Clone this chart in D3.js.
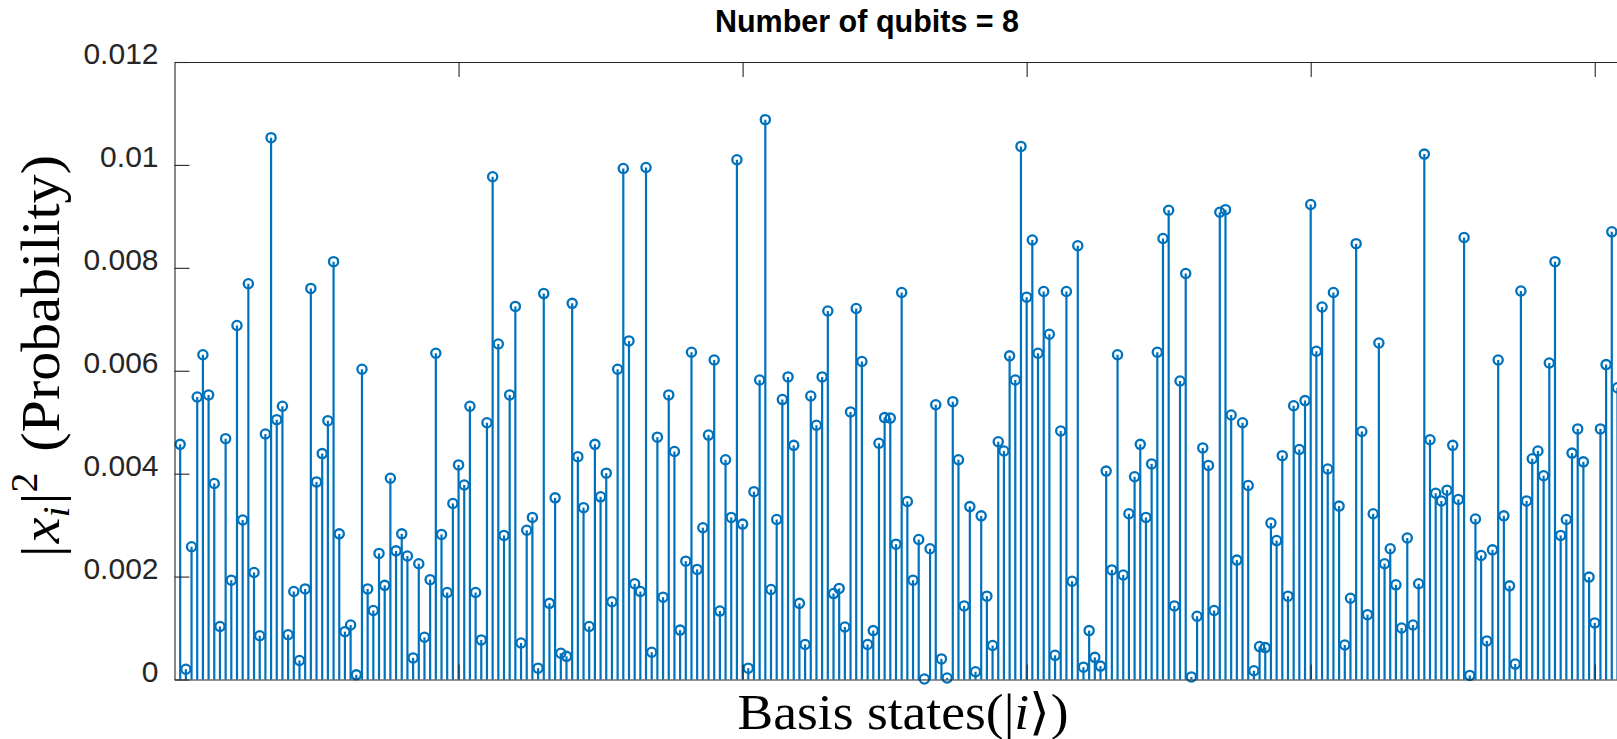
<!DOCTYPE html>
<html>
<head>
<meta charset="utf-8">
<script src="https://cdn.jsdelivr.net/npm/d3@7"></script>
<style>
  body { margin: 0; background: #fff; }
  svg { display: block; }
</style>
</head>
<body>
<script>
// |x_i|^2 for the 256 basis states (last couple are cropped)
const probabilities = [
  0.00457, 0.0002, 0.00258, 0.00549, 0.00631, 0.00553, 0.00381, 0.00103, 0.00468, 0.00193,
  0.00688, 0.0031, 0.00769, 0.00208, 0.00085, 0.00477, 0.01053, 0.00505, 0.00531, 0.00087,
  0.00171, 0.00037, 0.00176, 0.0076, 0.00384, 0.00439, 0.00503, 0.00812, 0.00283, 0.00093,
  0.00106, 0.00009, 0.00603, 0.00176, 0.00134, 0.00245, 0.00183, 0.00391, 0.0025, 0.00283,
  0.0024, 0.00042, 0.00225, 0.00082, 0.00194, 0.00634, 0.00282, 0.00169, 0.00342, 0.00417,
  0.00378, 0.00531, 0.00169, 0.00077, 0.00499, 0.00977, 0.00652, 0.0028, 0.00553, 0.00725,
  0.00071, 0.0029, 0.00315, 0.00022, 0.0075, 0.00148, 0.00353, 0.00051, 0.00045, 0.00731,
  0.00433, 0.00334, 0.00103, 0.00457, 0.00355, 0.00401, 0.00151, 0.00603, 0.00993, 0.00658,
  0.00186, 0.00171, 0.00995, 0.00053, 0.00471, 0.0016, 0.00553, 0.00443, 0.00096, 0.0023,
  0.00636, 0.00214, 0.00295, 0.00475, 0.00621, 0.00133, 0.00427, 0.00315, 0.0101, 0.00302,
  0.00022, 0.00365, 0.00582, 0.01088, 0.00175, 0.00311, 0.00544, 0.00588, 0.00455, 0.00148,
  0.00068, 0.00551, 0.00494, 0.00588, 0.00716, 0.00167, 0.00177, 0.00102, 0.0052, 0.00721,
  0.00618, 0.00068, 0.00095, 0.00459, 0.00509, 0.00508, 0.00263, 0.00752, 0.00346, 0.00193,
  0.00272, 0.00001, 0.00254, 0.00534, 0.0004, 0.00003, 0.0054, 0.00427, 0.00143, 0.00336,
  0.00015, 0.00318, 0.00162, 0.00066, 0.00462, 0.00444, 0.00629, 0.00582, 0.01036, 0.00743,
  0.00854, 0.00634, 0.00754, 0.00671, 0.00047, 0.00483, 0.00754, 0.00191, 0.00843, 0.00024,
  0.00095, 0.00043, 0.00026, 0.00405, 0.00213, 0.00631, 0.00203, 0.00322, 0.00394, 0.00457,
  0.00315, 0.00419, 0.00636, 0.00857, 0.00912, 0.00143, 0.0058, 0.00789, 0.00005, 0.00123,
  0.0045, 0.00416, 0.00134, 0.00908, 0.00913, 0.00514, 0.00232, 0.00499, 0.00377, 0.00017,
  0.00064, 0.00062, 0.00304, 0.0027, 0.00435, 0.00162, 0.00532, 0.00447, 0.00542, 0.00923,
  0.00638, 0.00724, 0.00409, 0.00752, 0.00337, 0.00067, 0.00158, 0.00847, 0.00482, 0.00126,
  0.00322, 0.00654, 0.00225, 0.00254, 0.00184, 0.001, 0.00275, 0.00106, 0.00186, 0.01021,
  0.00466, 0.00362, 0.00347, 0.00368, 0.00455, 0.0035, 0.00859, 0.00008, 0.00312, 0.00241,
  0.00075, 0.00252, 0.00621, 0.00318, 0.00182, 0.0003, 0.00755, 0.00347, 0.00429, 0.00444,
  0.00396, 0.00615, 0.00812, 0.0028, 0.00311, 0.0044, 0.00487, 0.00423, 0.00199, 0.0011,
  0.00487, 0.00612, 0.0087, 0.00567, 0.0065, 0.0036
]
const basisStates = probabilities.map((p, i) => i + 1)

const yTicks = [0, 0.002, 0.004, 0.006, 0.008, 0.01, 0.012]
const yTickLabels = ['0', '0.002', '0.004', '0.006', '0.008', '0.01', '0.012']
const xTicks = [50, 100, 150, 200, 250]

const titleText = 'Number of qubits = 8'

const w = 1617
const h = 739
const blue = '#0072BD'
const axisColor = '#262626'

const svg = d3.select('body')
    .append('svg')
    .attr('width', w)
    .attr('height', h)

svg.append('rect')
    .attr('width', w)
    .attr('height', h)
    .attr('fill', '#fff')

const x = d3.scaleLinear()
    .domain([0, 300])
    .range([174.5, 1878.8])

const y = d3.scaleLinear()
    .domain([0, 0.012])
    .range([679.5, 62])

// stems
const stems = svg.append('g')
    .selectAll('g')
    .data(basisStates)
    .enter()
    .append('g')

stems.append('line')
    .attr('x1', d => x(d))
    .attr('x2', d => x(d))
    .attr('y1', y(0))
    .attr('y2', d => y(probabilities[d - 1]))
    .attr('stroke', blue)
    .attr('stroke-width', 2.2)

stems.append('circle')
    .attr('cx', d => x(d))
    .attr('cy', d => y(probabilities[d - 1]))
    .attr('r', 4.6)
    .attr('fill', 'none')
    .attr('stroke', blue)
    .attr('stroke-width', 2.3)

// axes, ticks point inwards like matlab
const yAxis = d3.axisLeft(y)
    .tickValues(yTicks)
    .tickSize(-15)
    .tickSizeOuter(0)
    .tickPadding(16)
    .tickFormat((d, i) => yTickLabels[i])

const topAxis = d3.axisTop(x)
    .tickValues(xTicks)
    .tickSize(-15)
    .tickSizeOuter(0)
    .tickFormat('')

const bottomAxis = d3.axisBottom(x)
    .tickValues(xTicks)
    .tickSize(-15)
    .tickSizeOuter(0)
    .tickFormat('')

svg.append('g')
    .attr('transform', `translate(0,${y(0)})`)
    .call(bottomAxis)

svg.append('g')
    .attr('transform', `translate(0,${y(0.012)})`)
    .call(topAxis)

const gy = svg.append('g')
    .attr('transform', `translate(${x(0)},0)`)
    .call(yAxis)

gy.selectAll('text')
    .attr('y', -8)
    .style('font-family', '"Liberation Sans", Arial, Helvetica, sans-serif')
    .style('font-size', '30px')

svg.selectAll('.domain, .tick line')
    .attr('stroke', axisColor)
    .attr('stroke-width', 1.1)

svg.selectAll('.tick text')
    .attr('fill', axisColor)

// title
svg.append('text')
    .attr('x', 867)
    .attr('y', 32)
    .attr('text-anchor', 'middle')
    .style('font-family', '"Liberation Sans", Arial, Helvetica, sans-serif')
    .style('font-weight', 'bold')
    .style('font-size', '30.5px')
    .attr('fill', '#000')
    .text(titleText)

// x label
const xl = svg.append('text')
    .attr('x', 903)
    .attr('y', 729)
    .attr('text-anchor', 'middle')
    .attr('textLength', 331)
    .attr('lengthAdjust', 'spacingAndGlyphs')
    .style('font-family', '"Liberation Serif", "Times New Roman", serif')
    .style('font-size', '50px')
    .attr('fill', '#000')
xl.append('tspan').text('Basis states(|')
xl.append('tspan').style('font-style', 'italic').text('i')
xl.append('tspan').text('\u27E9)')

// y label
const yl = svg.append('text')
    .attr('transform', 'translate(59,356) rotate(-90)')
    .attr('text-anchor', 'middle')
    .attr('textLength', 402)
    .attr('lengthAdjust', 'spacingAndGlyphs')
    .style('font-family', '"Liberation Serif", "Times New Roman", serif')
    .style('font-size', '54px')
    .attr('fill', '#000')
yl.append('tspan').text('|')
yl.append('tspan').style('font-style', 'italic').attr('dx', 2).text('x')
yl.append('tspan').style('font-style', 'italic').style('font-size', '37px').attr('dy', 10).text('i')
yl.append('tspan').attr('dy', -10).attr('dx', 2).text('|')
yl.append('tspan').style('font-size', '37px').attr('dy', -22).text('2')
yl.append('tspan').attr('dy', 22).attr('dx', 6).text(' (Probability)')
</script>
</body>
</html>
